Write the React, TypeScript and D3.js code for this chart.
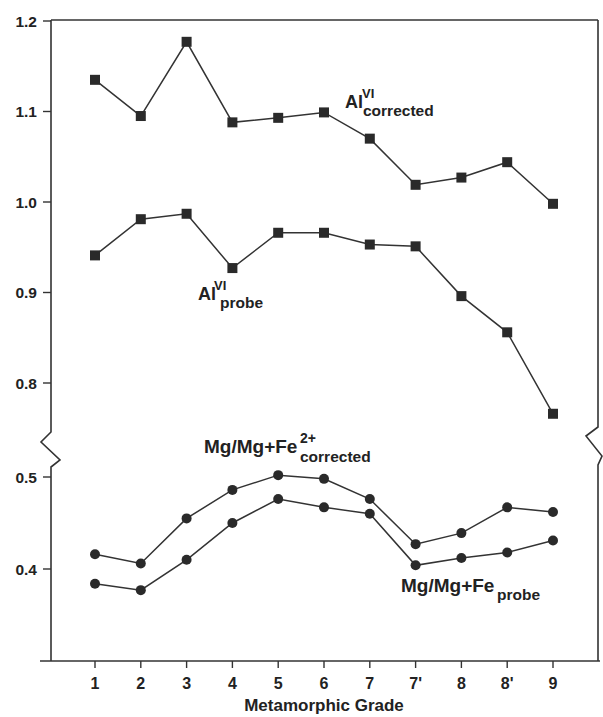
import * as d3 from "d3";
import React from "react";

// metamorphic grade categories (x axis)
const grades = ["1", "2", "3", "4", "5", "6", "7", "7'", "8", "8'", "9"];

// upper panel (squares)
const alCorrected = [1.135, 1.095, 1.177, 1.088, 1.093, 1.099, 1.07, 1.019, 1.027, 1.044, 0.998];
const alProbe = [0.941, 0.981, 0.987, 0.927, 0.966, 0.966, 0.953, 0.951, 0.896, 0.856, 0.766];

// lower panel (circles)
const mgCorrected = [0.416, 0.406, 0.455, 0.486, 0.502, 0.498, 0.476, 0.427, 0.439, 0.467, 0.462];
const mgProbe = [0.384, 0.377, 0.41, 0.45, 0.476, 0.467, 0.46, 0.404, 0.412, 0.418, 0.431];

const upperTicks = [1.2, 1.1, 1.0, 0.9, 0.8];
const lowerTicks = [0.5, 0.4];

export default function App() {
  const width = 603;
  const height = 717;
  const left = 51;
  const right = 598;
  const top = 20;
  const bottom = 661;

  const x = d3.scalePoint().domain(grades).range([95, 553]);
  const yUp = d3.scaleLinear().domain([0.8, 1.2]).range([383, 21]);
  const yLow = d3.scaleLinear().domain([0.3, 0.5]).range([bottom, 477]);

  const ink = "#222";
  const lineCol = "#333";
  const font = "'Liberation Sans', Arial, Helvetica, sans-serif";

  const mkLine = (vals: number[], y: d3.ScaleLinear<number, number>) =>
    d3
      .line<number>()
      .x((_, i) => x(grades[i]) as number)
      .y((d) => y(d))(vals) as string;

  // axis frame with break marks
  const leftAxis = `M${left},${top} L${left},432 L41,442 L60,460 L${left},467 L${left},${bottom}`;
  const rightAxis = `M${right},${top} L${right},427 L586,436 L602,456 L${right},465 L${right},${bottom}`;

  const squares = (vals: number[], key: string) =>
    vals.map((v, i) => (
      <rect
        key={key + i}
        x={(x(grades[i]) as number) - 5}
        y={yUp(v) - 5}
        width={10}
        height={10}
        fill="#2a2a2a"
      />
    ));
  const dots = (vals: number[], key: string) =>
    vals.map((v, i) => (
      <circle key={key + i} cx={x(grades[i]) as number} cy={yLow(v)} r={5} fill="#2a2a2a" />
    ));

  return (
    <svg
      width={width}
      height={height}
      style={{ position: "absolute", left: 0, top: 0, background: "#fff" }}
      fontFamily={font}
    >
      <g fill="none" stroke={lineCol} strokeWidth={1.6}>
        <path d={leftAxis} />
        <path d={rightAxis} />
        <line x1={left} y1={top} x2={right} y2={top} />
        <line x1={40} y1={bottom} x2={600} y2={bottom} />
      </g>

      {/* y ticks */}
      <g fill={ink} fontSize={15.5} fontWeight="bold" textAnchor="end">
        {upperTicks.map((t) => (
          <g key={"u" + t}>
            <line x1={43} x2={left} y1={yUp(t)} y2={yUp(t)} stroke={lineCol} strokeWidth={1.4} />
            <text x={37} y={yUp(t)} dy="0.36em">
              {t.toFixed(1)}
            </text>
          </g>
        ))}
        {lowerTicks.map((t) => (
          <g key={"l" + t}>
            <line x1={43} x2={left} y1={yLow(t)} y2={yLow(t)} stroke={lineCol} strokeWidth={1.4} />
            <text x={37} y={yLow(t)} dy="0.36em">
              {t.toFixed(1)}
            </text>
          </g>
        ))}
      </g>

      {/* x ticks */}
      <g fill={ink} fontSize={16} fontWeight="bold" textAnchor="middle">
        {grades.map((g) => (
          <g key={"x" + g}>
            <line
              x1={x(g) as number}
              x2={x(g) as number}
              y1={bottom}
              y2={bottom + 7}
              stroke={lineCol}
              strokeWidth={1.4}
            />
            <text x={x(g) as number} y={bottom + 28}>
              {g}
            </text>
          </g>
        ))}
        <text x={x("6") as number} y={bottom + 50} fontSize={17}>
          Metamorphic Grade
        </text>
      </g>

      {/* series */}
      <g fill="none" stroke={lineCol} strokeWidth={1.5}>
        <path d={mkLine(alCorrected, yUp)} />
        <path d={mkLine(alProbe, yUp)} />
        <path d={mkLine(mgCorrected, yLow)} />
        <path d={mkLine(mgProbe, yLow)} />
      </g>
      {squares(alCorrected, "ac")}
      {squares(alProbe, "ap")}
      {dots(mgCorrected, "mc")}
      {dots(mgProbe, "mp")}

      {/* labels */}
      <g fill={ink} fontWeight="bold">
        <text x={345} y={108} fontSize={18}>Al</text>
        <text x={362} y={98} fontSize={13}>VI</text>
        <text x={363} y={116} fontSize={15.5}>corrected</text>

        <text x={198} y={300} fontSize={18}>Al</text>
        <text x={214} y={290} fontSize={13}>VI</text>
        <text x={220} y={308} fontSize={15.5}>probe</text>

        <text x={204} y={453} fontSize={19}>Mg/Mg+Fe</text>
        <text x={300} y={443} fontSize={14}>2+</text>
        <text x={300} y={462} fontSize={15.5}>corrected</text>

        <text x={401} y={592} fontSize={19}>Mg/Mg+Fe</text>
        <text x={497} y={600} fontSize={15.5}>probe</text>
      </g>
    </svg>
  );
}
